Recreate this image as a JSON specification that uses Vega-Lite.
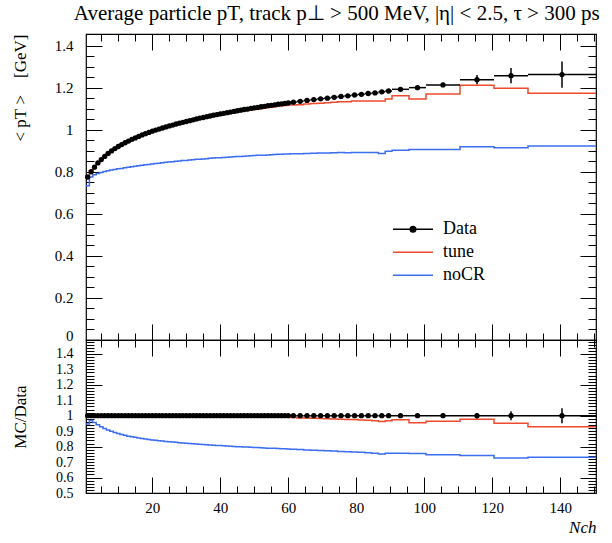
{
  "$schema": "https://vega.github.io/schema/vega-lite/v6.json",
  "padding": {"left": 10, "top": 2, "right": 15, "bottom": 5},
  "title": {"text": "Average particle pT, track p⊥ > 500 MeV, |η| < 2.5, τ > 300 ps", "anchor": "end", "fontSize": 21, "font": "Liberation Serif", "fontWeight": "normal", "color": "black", "offset": 9},
  "config": {
    "view": {"stroke": "black", "strokeWidth": 1.2},
    "font": "Liberation Serif",
    "axis": {"labelFont": "Liberation Serif", "titleFont": "Liberation Serif", "labelColor": "black", "titleColor": "black", "tickColor": "black", "domain": false, "grid": false, "tickWidth": 1, "titleFontWeight": "normal", "labelFontSize": 15, "titleFontSize": 17, "labelOverlap": false, "labelFlush": false}
  },
  "datasets": {
    "bins": [
      {"lo":0.5,"hi":1.5,"x":1,"d":0.775,"t":0.778,"n":0.733,"rt":1.004,"rn":0.946},
      {"lo":1.5,"hi":2.5,"x":2,"d":0.800,"t":0.803,"n":0.775,"rt":1.004,"rn":0.969},
      {"lo":2.5,"hi":3.5,"x":3,"d":0.822,"t":0.824,"n":0.786,"rt":1.002,"rn":0.956},
      {"lo":3.5,"hi":4.5,"x":4,"d":0.842,"t":0.843,"n":0.792,"rt":1.001,"rn":0.941},
      {"lo":4.5,"hi":5.5,"x":5,"d":0.858,"t":0.859,"n":0.797,"rt":1.001,"rn":0.929},
      {"lo":5.5,"hi":6.5,"x":6,"d":0.873,"t":0.873,"n":0.801,"rt":1.0,"rn":0.918},
      {"lo":6.5,"hi":7.5,"x":7,"d":0.887,"t":0.887,"n":0.805,"rt":1.0,"rn":0.908},
      {"lo":7.5,"hi":8.5,"x":8,"d":0.899,"t":0.899,"n":0.808,"rt":1.0,"rn":0.899},
      {"lo":8.5,"hi":9.5,"x":9,"d":0.910,"t":0.910,"n":0.811,"rt":1.0,"rn":0.891},
      {"lo":9.5,"hi":10.5,"x":10,"d":0.920,"t":0.920,"n":0.814,"rt":1.0,"rn":0.885},
      {"lo":10.5,"hi":11.5,"x":11,"d":0.929,"t":0.929,"n":0.816,"rt":1.0,"rn":0.878},
      {"lo":11.5,"hi":12.5,"x":12,"d":0.938,"t":0.938,"n":0.819,"rt":1.0,"rn":0.873},
      {"lo":12.5,"hi":13.5,"x":13,"d":0.946,"t":0.945,"n":0.821,"rt":0.999,"rn":0.868},
      {"lo":13.5,"hi":14.5,"x":14,"d":0.954,"t":0.953,"n":0.824,"rt":0.999,"rn":0.864},
      {"lo":14.5,"hi":15.5,"x":15,"d":0.961,"t":0.960,"n":0.826,"rt":0.999,"rn":0.860},
      {"lo":15.5,"hi":16.5,"x":16,"d":0.968,"t":0.967,"n":0.829,"rt":0.999,"rn":0.856},
      {"lo":16.5,"hi":17.5,"x":17,"d":0.975,"t":0.974,"n":0.831,"rt":0.999,"rn":0.852},
      {"lo":17.5,"hi":18.5,"x":18,"d":0.981,"t":0.980,"n":0.833,"rt":0.999,"rn":0.849},
      {"lo":18.5,"hi":19.5,"x":19,"d":0.987,"t":0.986,"n":0.835,"rt":0.999,"rn":0.846},
      {"lo":19.5,"hi":20.5,"x":20,"d":0.993,"t":0.992,"n":0.837,"rt":0.999,"rn":0.843},
      {"lo":20.5,"hi":21.5,"x":21,"d":0.998,"t":0.997,"n":0.839,"rt":0.999,"rn":0.841},
      {"lo":21.5,"hi":22.5,"x":22,"d":1.003,"t":1.001,"n":0.841,"rt":0.998,"rn":0.838},
      {"lo":22.5,"hi":23.5,"x":23,"d":1.008,"t":1.006,"n":0.843,"rt":0.998,"rn":0.836},
      {"lo":23.5,"hi":24.5,"x":24,"d":1.013,"t":1.011,"n":0.845,"rt":0.998,"rn":0.834},
      {"lo":24.5,"hi":25.5,"x":25,"d":1.018,"t":1.016,"n":0.846,"rt":0.998,"rn":0.831},
      {"lo":25.5,"hi":26.5,"x":26,"d":1.022,"t":1.020,"n":0.848,"rt":0.998,"rn":0.830},
      {"lo":26.5,"hi":27.5,"x":27,"d":1.027,"t":1.024,"n":0.850,"rt":0.997,"rn":0.828},
      {"lo":27.5,"hi":28.5,"x":28,"d":1.031,"t":1.028,"n":0.851,"rt":0.997,"rn":0.825},
      {"lo":28.5,"hi":29.5,"x":29,"d":1.035,"t":1.032,"n":0.853,"rt":0.997,"rn":0.824},
      {"lo":29.5,"hi":30.5,"x":30,"d":1.039,"t":1.036,"n":0.854,"rt":0.997,"rn":0.822},
      {"lo":30.5,"hi":31.5,"x":31,"d":1.043,"t":1.039,"n":0.856,"rt":0.996,"rn":0.821},
      {"lo":31.5,"hi":32.5,"x":32,"d":1.047,"t":1.043,"n":0.857,"rt":0.996,"rn":0.819},
      {"lo":32.5,"hi":33.5,"x":33,"d":1.051,"t":1.047,"n":0.859,"rt":0.996,"rn":0.817},
      {"lo":33.5,"hi":34.5,"x":34,"d":1.055,"t":1.051,"n":0.860,"rt":0.996,"rn":0.815},
      {"lo":34.5,"hi":35.5,"x":35,"d":1.058,"t":1.054,"n":0.861,"rt":0.996,"rn":0.814},
      {"lo":35.5,"hi":36.5,"x":36,"d":1.062,"t":1.057,"n":0.862,"rt":0.995,"rn":0.812},
      {"lo":36.5,"hi":37.5,"x":37,"d":1.065,"t":1.060,"n":0.864,"rt":0.995,"rn":0.811},
      {"lo":37.5,"hi":38.5,"x":38,"d":1.069,"t":1.064,"n":0.865,"rt":0.995,"rn":0.809},
      {"lo":38.5,"hi":39.5,"x":39,"d":1.072,"t":1.067,"n":0.866,"rt":0.995,"rn":0.808},
      {"lo":39.5,"hi":40.5,"x":40,"d":1.075,"t":1.070,"n":0.867,"rt":0.995,"rn":0.807},
      {"lo":40.5,"hi":41.5,"x":41,"d":1.078,"t":1.072,"n":0.868,"rt":0.994,"rn":0.805},
      {"lo":41.5,"hi":42.5,"x":42,"d":1.081,"t":1.075,"n":0.869,"rt":0.994,"rn":0.804},
      {"lo":42.5,"hi":43.5,"x":43,"d":1.084,"t":1.078,"n":0.870,"rt":0.994,"rn":0.803},
      {"lo":43.5,"hi":44.5,"x":44,"d":1.087,"t":1.081,"n":0.871,"rt":0.994,"rn":0.801},
      {"lo":44.5,"hi":45.5,"x":45,"d":1.090,"t":1.083,"n":0.872,"rt":0.994,"rn":0.800},
      {"lo":45.5,"hi":46.5,"x":46,"d":1.093,"t":1.086,"n":0.873,"rt":0.993,"rn":0.799},
      {"lo":46.5,"hi":47.5,"x":47,"d":1.096,"t":1.089,"n":0.874,"rt":0.993,"rn":0.797},
      {"lo":47.5,"hi":48.5,"x":48,"d":1.098,"t":1.091,"n":0.875,"rt":0.993,"rn":0.797},
      {"lo":48.5,"hi":49.5,"x":49,"d":1.101,"t":1.093,"n":0.876,"rt":0.993,"rn":0.796},
      {"lo":49.5,"hi":50.5,"x":50,"d":1.104,"t":1.096,"n":0.877,"rt":0.993,"rn":0.794},
      {"lo":50.5,"hi":51.5,"x":51,"d":1.106,"t":1.098,"n":0.878,"rt":0.992,"rn":0.794},
      {"lo":51.5,"hi":52.5,"x":52,"d":1.109,"t":1.100,"n":0.879,"rt":0.992,"rn":0.793},
      {"lo":52.5,"hi":53.5,"x":53,"d":1.111,"t":1.102,"n":0.879,"rt":0.992,"rn":0.791},
      {"lo":53.5,"hi":54.5,"x":54,"d":1.114,"t":1.105,"n":0.880,"rt":0.992,"rn":0.790},
      {"lo":54.5,"hi":55.5,"x":55,"d":1.116,"t":1.107,"n":0.881,"rt":0.992,"rn":0.789},
      {"lo":55.5,"hi":56.5,"x":56,"d":1.118,"t":1.109,"n":0.882,"rt":0.991,"rn":0.789},
      {"lo":56.5,"hi":57.5,"x":57,"d":1.121,"t":1.111,"n":0.883,"rt":0.991,"rn":0.788},
      {"lo":57.5,"hi":58.5,"x":58,"d":1.123,"t":1.113,"n":0.883,"rt":0.991,"rn":0.786},
      {"lo":58.5,"hi":59.5,"x":59,"d":1.125,"t":1.115,"n":0.884,"rt":0.991,"rn":0.786},
      {"lo":59.5,"hi":60.5,"x":60,"d":1.127,"t":1.117,"n":0.885,"rt":0.991,"rn":0.785},
      {"lo":60.5,"hi":62.5,"x":61.5,"d":1.131,"t":1.117,"n":0.886,"rt":0.988,"rn":0.783},
      {"lo":62.5,"hi":64.5,"x":63.5,"d":1.135,"t":1.119,"n":0.886,"rt":0.986,"rn":0.781},
      {"lo":64.5,"hi":66.5,"x":65.5,"d":1.139,"t":1.122,"n":0.887,"rt":0.985,"rn":0.779},
      {"lo":66.5,"hi":68.5,"x":67.5,"d":1.143,"t":1.125,"n":0.888,"rt":0.984,"rn":0.777},
      {"lo":68.5,"hi":70.5,"x":69.5,"d":1.147,"t":1.126,"n":0.889,"rt":0.982,"rn":0.775},
      {"lo":70.5,"hi":72.5,"x":71.5,"d":1.150,"t":1.128,"n":0.889,"rt":0.981,"rn":0.773},
      {"lo":72.5,"hi":74.5,"x":73.5,"d":1.154,"t":1.130,"n":0.890,"rt":0.979,"rn":0.771},
      {"lo":74.5,"hi":76.5,"x":75.5,"d":1.158,"t":1.133,"n":0.891,"rt":0.978,"rn":0.769},
      {"lo":76.5,"hi":78.5,"x":77.5,"d":1.161,"t":1.133,"n":0.890,"rt":0.976,"rn":0.767},
      {"lo":78.5,"hi":80.5,"x":79.5,"d":1.165,"t":1.136,"n":0.891,"rt":0.975,"rn":0.765},
      {"lo":80.5,"hi":82.5,"x":81.5,"d":1.168,"t":1.136,"n":0.891,"rt":0.973,"rn":0.763},
      {"lo":82.5,"hi":84.5,"x":83.5,"d":1.172,"t":1.137,"n":0.892,"rt":0.970,"rn":0.761},
      {"lo":84.5,"hi":86.5,"x":85.5,"d":1.175,"t":1.137,"n":0.891,"rt":0.968,"rn":0.758},
      {"lo":86.5,"hi":88.5,"x":87.5,"d":1.180,"t":1.136,"n":0.887,"rt":0.963,"rn":0.752,"elo":1.176,"ehi":1.184,"rlo":0.997,"rhi":1.003},
      {"lo":88.5,"hi":90.5,"x":89.5,"d":1.184,"t":1.146,"n":0.897,"rt":0.968,"rn":0.758,"elo":1.180,"ehi":1.188,"rlo":0.997,"rhi":1.003},
      {"lo":90.5,"hi":95.5,"x":93,"d":1.192,"t":1.161,"n":0.902,"rt":0.974,"rn":0.757,"elo":1.187,"ehi":1.197,"rlo":0.996,"rhi":1.004},
      {"lo":95.5,"hi":100.5,"x":98,"d":1.200,"t":1.146,"n":0.906,"rt":0.955,"rn":0.755,"elo":1.194,"ehi":1.206,"rlo":0.995,"rhi":1.005},
      {"lo":100.5,"hi":110.5,"x":105.5,"d":1.213,"t":1.170,"n":0.906,"rt":0.965,"rn":0.747,"elo":1.205,"ehi":1.221,"rlo":0.993,"rhi":1.007},
      {"lo":110.5,"hi":120.5,"x":115.5,"d":1.238,"t":1.211,"n":0.919,"rt":0.978,"rn":0.742,"elo":1.216,"ehi":1.260,"rlo":0.982,"rhi":1.018},
      {"lo":120.5,"hi":130.5,"x":125.5,"d":1.257,"t":1.197,"n":0.914,"rt":0.952,"rn":0.727,"elo":1.221,"ehi":1.293,"rlo":0.971,"rhi":1.029},
      {"lo":130.5,"hi":150.5,"x":140.5,"d":1.262,"t":1.173,"n":0.922,"rt":0.929,"rn":0.731,"elo":1.200,"ehi":1.324,"rlo":0.951,"rhi":1.049},
      {"lo":150.5,"t":1.173,"n":0.922,"rt":0.929,"rn":0.731}
    ]
  },
  "vconcat": [
    {
      "data": {"name": "bins"},
      "width": 510,
      "height": 306,
      "layer": [
        {
          "mark": {"type": "line", "interpolate": "step-after", "strokeWidth": 1.5},
          "encoding": {
            "x": {"field": "lo", "type": "quantitative", "scale": {"domain": [0.5, 150.5], "nice": false, "zero": false},
              "axis": {"orient": "bottom", "values": [5,10,15,25,30,35,45,50,55,65,70,75,85,90,95,105,110,115,125,130,135,145,150], "labels": false, "title": null, "tickSize": -7}},
            "y": {"field": "t", "type": "quantitative", "scale": {"domain": [0, 1.455], "nice": false, "zero": false},
              "axis": {"orient": "left", "values": [0,0.2,0.4,0.6,0.8,1,1.2,1.4], "format": ".1~f",
                "labelBaseline": {"condition": {"test": "datum.value === 0", "value": "alphabetic"}, "value": "middle"},
                "title": "<\u00a0pT\u00a0>\u00a0\u00a0\u00a0\u00a0[GeV]", "titleAnchor": "end", "ticks": false, "labelPadding": 13, "minExtent": 45, "maxExtent": 45, "titlePadding": 12}},
            "color": {"datum": "tune", "type": "nominal",
              "scale": {"domain": ["Data", "tune", "noCR"], "range": ["black", "#ef4a2e", "#3d6ef2"]},
              "legend": {"orient": "none", "legendX": 306, "legendY": 184, "title": null, "symbolType": "stroke", "symbolSize": 1600, "symbolStrokeWidth": 1.5, "clipHeight": 22.5, "labelFont": "Liberation Serif", "labelFontSize": 18, "labelColor": "black", "labelOffset": 9, "rowPadding": 0, "padding": 0,
                "encode": {"symbols": {"update": {
                  "shape": {"signal": "datum.value === 'Data' ? 'M-1,0H1M0.14,0A0.14,0.14,0,1,1,-0.14,0A0.14,0.14,0,1,1,0.14,0Z' : 'stroke'"},
                  "fill": {"signal": "datum.value === 'Data' ? 'black' : 'transparent'"}}}}}}
          }
        },
        {
          "mark": {"type": "line", "interpolate": "step-after", "strokeWidth": 1.5},
          "encoding": {
            "x": {"field": "lo", "type": "quantitative", "scale": {"domain": [0.5, 150.5], "nice": false, "zero": false},
              "axis": {"orient": "top", "values": [5,10,15,25,30,35,45,50,55,65,70,75,85,90,95,105,110,115,125,130,135,145,150], "labels": false, "title": null, "tickSize": -7}},
            "y": {"field": "n", "type": "quantitative", "scale": {"domain": [0, 1.455], "nice": false, "zero": false},
              "axis": {"orient": "right", "values": [0.05,0.1,0.15,0.25,0.3,0.35,0.45,0.5,0.55,0.65,0.7,0.75,0.85,0.9,0.95,1.05,1.1,1.15,1.25,1.3,1.35], "labels": false, "title": null, "tickSize": -8}},
            "color": {"datum": "noCR", "type": "nominal"}
          }
        },
        {
          "transform": [{"filter": "isValid(datum.d)"}],
          "mark": {"type": "rule", "strokeWidth": 1.5, "color": "black"},
          "encoding": {
            "x": {"field": "lo", "type": "quantitative", "scale": {"domain": [0.5, 150.5], "nice": false, "zero": false},
              "axis": {"orient": "bottom", "values": [20,40,60,80,100,120,140], "labels": false, "title": null, "tickSize": -16}},
            "x2": {"field": "hi"},
            "y": {"field": "d", "type": "quantitative", "scale": {"domain": [0, 1.455], "nice": false, "zero": false},
              "axis": {"orient": "left", "values": [0,0.2,0.4,0.6,0.8,1,1.2,1.4], "labels": false, "title": null, "tickSize": -16}}
          }
        },
        {
          "transform": [{"filter": "isValid(datum.elo)"}],
          "mark": {"type": "rule", "strokeWidth": 1.5, "color": "black"},
          "encoding": {
            "x": {"field": "x", "type": "quantitative", "scale": {"domain": [0.5, 150.5], "nice": false, "zero": false},
              "axis": {"orient": "top", "values": [20,40,60,80,100,120,140], "labels": false, "title": null, "tickSize": -16}},
            "y": {"field": "elo", "type": "quantitative", "scale": {"domain": [0, 1.455], "nice": false, "zero": false},
              "axis": {"orient": "right", "values": [0,0.2,0.4,0.6,0.8,1,1.2,1.4], "labels": false, "title": null, "tickSize": -16}},
            "y2": {"field": "ehi"}
          }
        },
        {
          "transform": [{"filter": "isValid(datum.d)"}],
          "mark": {"type": "point", "filled": true, "size": 28, "opacity": 1, "shape": "circle"},
          "encoding": {
            "x": {"field": "x", "type": "quantitative", "scale": {"domain": [0.5, 150.5], "nice": false, "zero": false}, "axis": null},
            "y": {"field": "d", "type": "quantitative", "scale": {"domain": [0, 1.455], "nice": false, "zero": false},
              "axis": {"orient": "left", "values": [0.05,0.1,0.15,0.25,0.3,0.35,0.45,0.5,0.55,0.65,0.7,0.75,0.85,0.9,0.95,1.05,1.1,1.15,1.25,1.3,1.35], "labels": false, "title": null, "tickSize": -8}},
            "color": {"datum": "Data", "type": "nominal"}
          }
        }
      ],
      "resolve": {"axis": {"x": "independent", "y": "independent"}}
    },
    {
      "data": {"name": "bins"},
      "width": 510,
      "height": 153,
      "layer": [
        {
          "mark": {"type": "line", "interpolate": "step-after", "strokeWidth": 1.5, "color": "#ef4a2e"},
          "encoding": {
            "x": {"field": "lo", "type": "quantitative", "scale": {"domain": [0.5, 150.5], "nice": false, "zero": false},
              "axis": {"orient": "bottom", "values": [20,40,60,80,100,120,140], "labelPadding": 7, "ticks": false,
                "title": "Nch", "titleAnchor": "end", "titleFontStyle": "italic", "titleFontSize": 17, "titlePadding": 4}},
            "y": {"field": "rt", "type": "quantitative", "scale": {"domain": [0.5, 1.49], "nice": false, "zero": false},
              "axis": {"orient": "left", "values": [0.5,0.6,0.7,0.8,0.9,1,1.1,1.2,1.3,1.4], "format": ".1~f",
                "labelFontSize": 14, "title": "MC/Data", "ticks": false, "labelPadding": 13, "minExtent": 45, "maxExtent": 45, "titlePadding": 12}}
          }
        },
        {
          "mark": {"type": "line", "interpolate": "step-after", "strokeWidth": 1.5, "color": "#3d6ef2"},
          "encoding": {
            "x": {"field": "lo", "type": "quantitative", "scale": {"domain": [0.5, 150.5], "nice": false, "zero": false},
              "axis": {"orient": "bottom", "values": [5,10,15,25,30,35,45,50,55,65,70,75,85,90,95,105,110,115,125,130,135,145,150], "labels": false, "title": null, "tickSize": -7}},
            "y": {"field": "rn", "type": "quantitative", "scale": {"domain": [0.5, 1.49], "nice": false, "zero": false},
              "axis": {"orient": "left", "values": [0.6,0.8,1,1.2,1.4], "labels": false, "title": null, "tickSize": -16}}
          }
        },
        {
          "transform": [{"filter": "isValid(datum.d)"}],
          "mark": {"type": "rule", "strokeWidth": 1.5, "color": "black"},
          "encoding": {
            "x": {"field": "lo", "type": "quantitative", "scale": {"domain": [0.5, 150.5], "nice": false, "zero": false},
              "axis": {"orient": "bottom", "values": [20,40,60,80,100,120,140], "labels": false, "title": null, "tickSize": -16}},
            "x2": {"field": "hi"},
            "y": {"datum": 1, "type": "quantitative", "scale": {"domain": [0.5, 1.49], "nice": false, "zero": false},
              "axis": {"orient": "left", "values": [0.52,0.54,0.56,0.58,0.62,0.64,0.66,0.68,0.7,0.72,0.74,0.76,0.78,0.82,0.84,0.86,0.88,0.9,0.92,0.94,0.96,0.98,1.02,1.04,1.06,1.08,1.1,1.12,1.14,1.16,1.18,1.22,1.24,1.26,1.28,1.3,1.32,1.34,1.36,1.38,1.42,1.44,1.46,1.48], "labels": false, "title": null, "tickSize": -8}}
          }
        },
        {
          "transform": [{"filter": "isValid(datum.rlo)"}],
          "mark": {"type": "rule", "strokeWidth": 1.5, "color": "black"},
          "encoding": {
            "x": {"field": "x", "type": "quantitative", "scale": {"domain": [0.5, 150.5], "nice": false, "zero": false},
              "axis": {"orient": "top", "values": [20,40,60,80,100,120,140], "labels": false, "title": null, "tickSize": -16}},
            "y": {"field": "rlo", "type": "quantitative", "scale": {"domain": [0.5, 1.49], "nice": false, "zero": false},
              "axis": {"orient": "right", "values": [0.6,0.8,1,1.2,1.4], "labels": false, "title": null, "tickSize": -16}},
            "y2": {"field": "rhi"}
          }
        },
        {
          "transform": [{"filter": "isValid(datum.d)"}],
          "mark": {"type": "point", "filled": true, "size": 28, "opacity": 1, "shape": "circle", "color": "black"},
          "encoding": {
            "x": {"field": "x", "type": "quantitative", "scale": {"domain": [0.5, 150.5], "nice": false, "zero": false},
              "axis": {"orient": "top", "values": [5,10,15,25,30,35,45,50,55,65,70,75,85,90,95,105,110,115,125,130,135,145,150], "labels": false, "title": null, "tickSize": -7}},
            "y": {"datum": 1, "type": "quantitative", "scale": {"domain": [0.5, 1.49], "nice": false, "zero": false},
              "axis": {"orient": "right", "values": [0.52,0.54,0.56,0.58,0.62,0.64,0.66,0.68,0.7,0.72,0.74,0.76,0.78,0.82,0.84,0.86,0.88,0.9,0.92,0.94,0.96,0.98,1.02,1.04,1.06,1.08,1.1,1.12,1.14,1.16,1.18,1.22,1.24,1.26,1.28,1.3,1.32,1.34,1.36,1.38,1.42,1.44,1.46,1.48], "labels": false, "title": null, "tickSize": -8}}
          }
        }
      ],
      "resolve": {"axis": {"x": "independent", "y": "independent"}}
    }
  ],
  "spacing": 0,
  "bounds": "flush"
}
